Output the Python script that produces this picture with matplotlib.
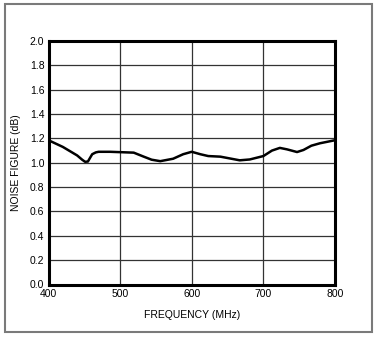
import numpy as np
import matplotlib.pyplot as plt
from matplotlib.patches import Rectangle

plt.rcParams['font.family'] = ['Liberation Sans', 'DejaVu Sans']

# noise figure vs frequency
freq = [400, 420, 440, 447, 451, 455, 458, 461, 466, 470, 486, 500, 519, 533,
        544, 556, 574, 588, 600, 612, 623, 640, 658, 667, 681, 700, 712, 723,
        733, 747, 756, 767, 779, 800]
nf = [1.185, 1.13, 1.06, 1.025, 1.008, 1.01, 1.04, 1.07, 1.085, 1.09, 1.09,
      1.087, 1.083, 1.05, 1.025, 1.013, 1.033, 1.07, 1.09, 1.07, 1.055, 1.05,
      1.03, 1.02, 1.027, 1.055, 1.10, 1.122, 1.11, 1.088, 1.105, 1.14, 1.16,
      1.185]

xticks = [400, 500, 600, 700, 800]
yticks = np.arange(0, 2.01, 0.2)

fig = plt.figure(figsize=(3.77, 3.37), dpi=100)
fig.patches.append(Rectangle((5 / 377, 1 - 332 / 337), 367 / 377, 328 / 337,
                             transform=fig.transFigure, fill=False,
                             edgecolor='#7a7a7a', linewidth=1.5))

ax = fig.add_axes([48.5 / 377, 1 - 284.5 / 337, 286.5 / 377, 243.5 / 337])
ax.plot(freq, nf, color='black', linewidth=1.8)

ax.set_xlim(400, 800)
ax.set_ylim(0, 2.0)
ax.set_xticks(xticks)
ax.set_yticks(yticks)
ax.set_yticklabels([f'{v:.1f}' for v in yticks])
ax.grid(True, color='#333333', linewidth=0.9)
ax.tick_params(length=0, labelsize=7.5, pad=3)
for s in ax.spines.values():
    s.set_linewidth(2.2)

ax.set_xlabel('FREQUENCY (MHz)', fontsize=7.5, labelpad=8)
ax.set_ylabel('NOISE FIGURE (dB)', fontsize=7.5, labelpad=6)

fig.savefig('out.png', dpi=100)
